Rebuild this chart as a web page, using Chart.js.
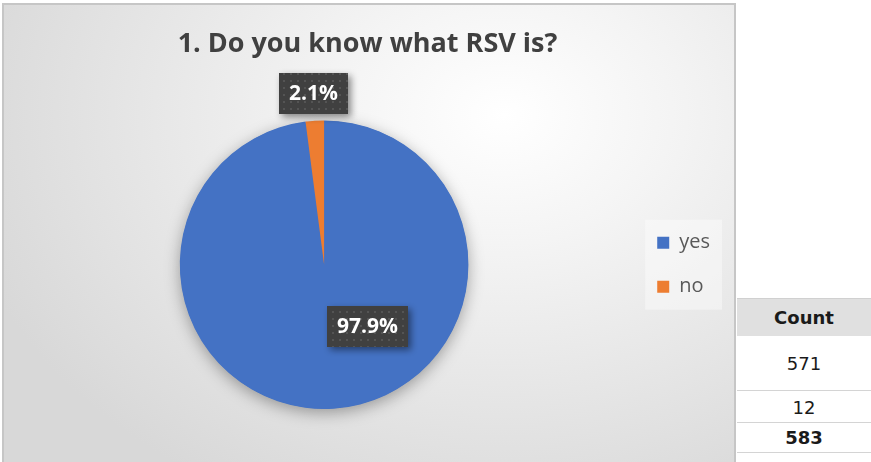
<!DOCTYPE html>
<html>
<head>
<meta charset="utf-8">
<script src="https://cdn.jsdelivr.net/npm/chart.js@4"></script>
<style>
  html, body { margin: 0; padding: 0; width: 871px; height: 462px; overflow: hidden; background: #ffffff; }
  #frame {
    position: absolute; left: 2px; top: 3px; width: 730px; height: 470px;
    border: 2px solid #c6c6c6;
    background: radial-gradient(ellipse 560px 430px at 500px 110px, #ffffff 0%, #f4f4f4 30%, #d8d8d8 100%);
  }
  #wrap { position: absolute; left: 0; top: 0; width: 737px; height: 462px; }
  #tbl { position: absolute; left: 737px; top: 298px; width: 134px; font-family: "DejaVu Sans", sans-serif; font-size: 18px; color: #1a1a1a; }
  #tbl div { text-align: center; box-sizing: border-box; }
  #tbl .hd { height: 38px; line-height: 38px; background: #e0e0e0; border-top: 1px solid #d0d0d0; font-weight: bold; }
  #tbl .r1 { height: 55px; line-height: 56px; border-bottom: 1px solid #d4d4d4; }
  #tbl .r2 { height: 32px; line-height: 34px; border-bottom: 1px solid #d4d4d4; }
  #tbl .r3 { height: 30px; line-height: 30px; border-bottom: 1px solid #d4d4d4; font-weight: bold; }
</style>
</head>
<body>
<div id="frame"></div>
<div id="wrap"><canvas id="pie"></canvas></div>
<div id="tbl"></div>
<script>
// Survey answers
const chartTitle = '1. Do you know what RSV is?';
const categories = ['yes', 'no'];
const counts = [571, 12];
const tableHeader = 'Count';

const sliceColors = ['#4472C4', '#ED7D31'];

// Where each percentage label sits: along the slice's mid angle (outside),
// or at an offset from the pie centre, both in units of the radius.
const labelPlace = [
  { mode: 'offset', dx: 0.30, dy: 0.425 },
  { mode: 'outside', dist: 1.19 }
];

const total = counts.reduce((a, b) => a + b, 0);

// Count table beside the chart
(function buildTable() {
  const t = document.getElementById('tbl');
  const rows = [[tableHeader, 'hd'], [counts[0], 'r1'], [counts[1], 'r2'], [total, 'r3']];
  rows.forEach(([txt, cls]) => {
    const d = document.createElement('div');
    d.className = cls;
    d.textContent = txt;
    t.appendChild(d);
  });
})();

// Dotted dark fill for the label boxes
function makeDotPattern(ctx) {
  const c = document.createElement('canvas');
  c.width = 7; c.height = 7;
  const p = c.getContext('2d');
  p.fillStyle = '#404040';
  p.fillRect(0, 0, 7, 7);
  p.fillStyle = '#545454';
  p.fillRect(3, 3, 2, 2);
  return ctx.createPattern(c, 'repeat');
}

const pieShadow = {
  id: 'pieShadow',
  beforeDatasetsDraw(chart) {
    const arc = chart.getDatasetMeta(0).data[0];
    if (!arc) return;
    const { x, y, outerRadius } = arc.getProps(['x', 'y', 'outerRadius'], true);
    const ctx = chart.ctx;
    ctx.save();
    ctx.shadowColor = 'rgba(0,0,0,0.35)';
    ctx.shadowBlur = 16;
    ctx.shadowOffsetX = 0;
    ctx.shadowOffsetY = 4;
    ctx.fillStyle = sliceColors[0];
    ctx.beginPath();
    ctx.arc(x, y, outerRadius - 0.5, 0, Math.PI * 2);
    ctx.fill();
    ctx.restore();
  }
};

const legendPanel = {
  id: 'legendPanel',
  beforeDraw(chart) {
    const boxes = chart.legend && chart.legend.legendHitBoxes;
    if (!boxes || !boxes.length) return;
    const left = Math.min(...boxes.map(b => b.left)) - 12;
    const right = Math.max(...boxes.map(b => b.left + b.width)) + 12;
    const top = boxes[0].top - 13;
    const bottom = boxes[boxes.length - 1].top + boxes[boxes.length - 1].height + 13;
    const ctx = chart.ctx;
    ctx.save();
    ctx.fillStyle = 'rgba(255,255,255,0.4)';
    ctx.fillRect(left, top, right - left, bottom - top);
    ctx.restore();
  }
};

let dotPattern = null;
const sliceLabels = {
  id: 'sliceLabels',
  afterDatasetsDraw(chart) {
    const ctx = chart.ctx;
    if (!dotPattern) dotPattern = makeDotPattern(ctx);
    chart.getDatasetMeta(0).data.forEach((arc, i) => {
      const { x, y, startAngle, endAngle, outerRadius } =
        arc.getProps(['x', 'y', 'startAngle', 'endAngle', 'outerRadius'], true);
      const place = labelPlace[i];
      let cx, cy;
      if (place.mode === 'outside') {
        const mid = (startAngle + endAngle) / 2;
        cx = x + Math.cos(mid) * outerRadius * place.dist;
        cy = y + Math.sin(mid) * outerRadius * place.dist;
      } else {
        cx = x + place.dx * outerRadius;
        cy = y + place.dy * outerRadius;
      }
      const text = (counts[i] / total * 100).toFixed(1) + '%';
      ctx.save();
      ctx.font = 'bold 21px "Open Sans"';
      const w = Math.round(ctx.measureText(text).width + 20);
      const h = 41;
      const bx = Math.round(cx - w / 2), by = Math.round(cy - h / 2);
      ctx.shadowColor = 'rgba(0,0,0,0.45)';
      ctx.shadowBlur = 7;
      ctx.shadowOffsetX = 3;
      ctx.shadowOffsetY = 3;
      ctx.fillStyle = dotPattern;
      ctx.fillRect(bx, by, w, h);
      ctx.shadowColor = 'transparent';
      ctx.fillStyle = '#ffffff';
      ctx.textAlign = 'center';
      ctx.textBaseline = 'middle';
      ctx.fillText(text, bx + w / 2, by + h / 2 + 1);
      ctx.restore();
    });
  }
};

new Chart(document.getElementById('pie'), {
  type: 'pie',
  data: {
    labels: categories,
    datasets: [{
      data: counts,
      backgroundColor: sliceColors,
      borderWidth: 0,
      hoverOffset: 0,
      offset: 0
    }]
  },
  options: {
    responsive: true,
    maintainAspectRatio: false,
    animation: false,
    events: [],
    layout: { padding: { left: 15, right: 17, top: 0, bottom: 53 } },
    plugins: {
      title: {
        display: true,
        text: chartTitle,
        color: '#404040',
        font: { family: '"Open Sans"', size: 27, weight: 'bold' },
        padding: { top: 28, bottom: 60 }
      },
      legend: {
        position: 'right',
        fullSize: false,
        labels: {
          color: '#595959',
          font: { family: '"Open Sans"', size: 20 },
          boxWidth: 12,
          boxHeight: 12,
          padding: 24
        }
      },
      tooltip: { enabled: false }
    }
  },
  plugins: [pieShadow, legendPanel, sliceLabels]
});
</script>
</body>
</html>
